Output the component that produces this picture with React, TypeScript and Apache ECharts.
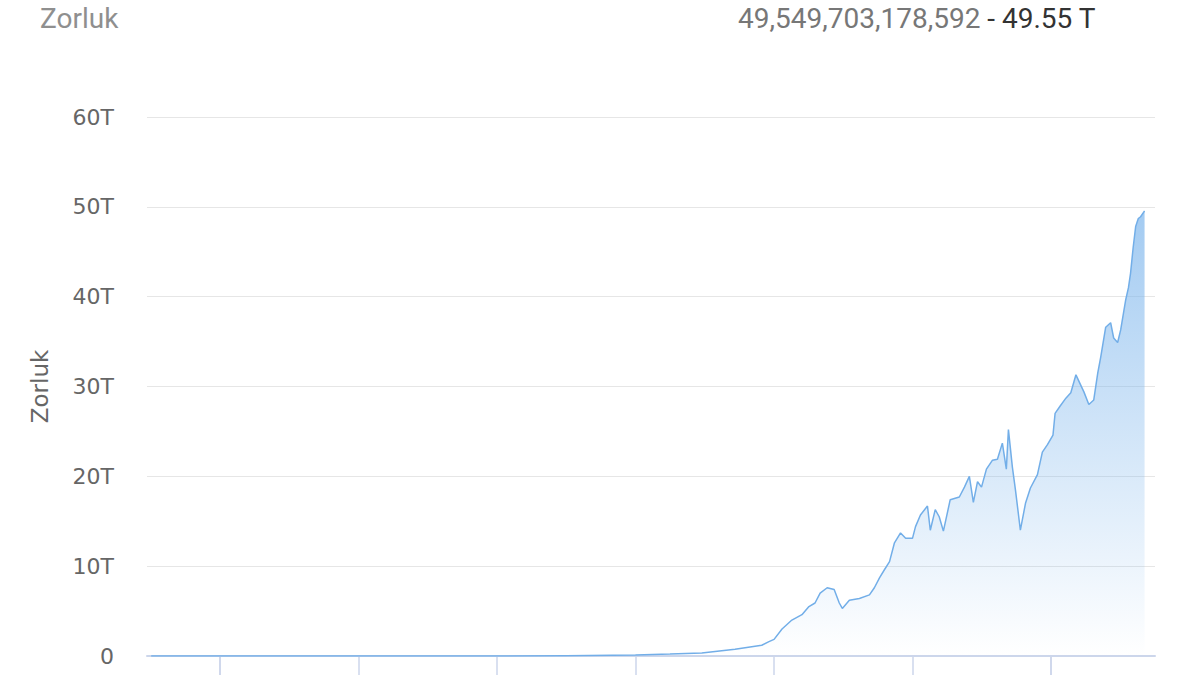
import React, { useEffect, useRef } from "react";
import * as echarts from "echarts";

// Bitcoin difficulty history (values in T = 10^12)
const dates: string[] = [
  "2009-01-03", "2011-01-01", "2012-01-01", "2013-01-01", "2014-01-01", "2015-01-01",
  "2016-01-01", "2016-07-01", "2016-12-16", "2017-06-09", "2017-10-28", "2017-12-05",
  "2018-01-01", "2018-02-12", "2018-04-05", "2018-05-28", "2018-07-04", "2018-08-05",
  "2018-09-01", "2018-10-08", "2018-11-14", "2018-12-11", "2018-12-27", "2019-02-02",
  "2019-03-27", "2019-05-19", "2019-06-14", "2019-07-11", "2019-08-06", "2019-09-02",
  "2019-09-28", "2019-10-30", "2019-11-26", "2020-01-01", "2020-01-17", "2020-02-12",
  "2020-03-20", "2020-04-04", "2020-04-30", "2020-05-21", "2020-06-12", "2020-07-18",
  "2020-09-04", "2020-10-01", "2020-10-27", "2020-11-17", "2020-12-09", "2020-12-30",
  "2021-01-25", "2021-02-26", "2021-03-24", "2021-04-19", "2021-05-10", "2021-05-21",
  "2021-06-11", "2021-06-27", "2021-07-23", "2021-08-19", "2021-09-14", "2021-10-21",
  "2021-11-16", "2021-12-12", "2022-01-11", "2022-01-22", "2022-02-17", "2022-03-20",
  "2022-04-15", "2022-05-12", "2022-06-23", "2022-07-19", "2022-08-14", "2022-09-04",
  "2022-09-20", "2022-10-16", "2022-11-11", "2022-11-27", "2022-12-18", "2023-01-03",
  "2023-01-29", "2023-02-13", "2023-02-24", "2023-03-10", "2023-03-23", "2023-04-06",
  "2023-04-18", "2023-05-09",
];

const difficultyT: number[] = [
  0, 0.0000016, 0.0000012, 0.0000034, 0.0014, 0.04,
  0.1, 0.21, 0.33, 0.75, 1.2, 1.6,
  1.85, 3.0, 4.0, 4.6, 5.5, 5.9,
  7.0, 7.6, 7.4, 5.9, 5.3, 6.2,
  6.4, 6.8, 7.6, 8.7, 9.6, 10.5,
  12.6, 13.7, 13.1, 13.1, 14.4, 15.7,
  16.7, 14.0, 16.3, 15.5, 13.9, 17.4,
  17.7, 18.8, 20.0, 17.1, 19.4, 18.8,
  20.8, 21.8, 21.9, 23.7, 20.8, 25.2,
  21.0, 18.5, 14.0, 17.0, 18.7, 20.2,
  22.7, 23.5, 24.6, 27.0, 27.8, 28.7,
  29.3, 31.3, 29.4, 28.0, 28.5, 31.5,
  33.3, 36.6, 37.1, 35.4, 34.9, 36.3,
  39.6, 41.0, 42.6, 45.5, 47.8, 48.7,
  48.9, 49.55,
];

const xTickDates: string[] = [
  "2010-01-01", "2012-01-01", "2014-01-01", "2016-01-01",
  "2018-01-01", "2020-01-01", "2022-01-01",
];

const latestDifficulty = 49549703178592;
const chartTitle = "Zorluk";
const yAxisName = "Zorluk";

export default function App() {
  const ref = useRef<HTMLDivElement>(null);

  useEffect(() => {
    if (!ref.current) return;
    const chart = echarts.init(ref.current, null, { renderer: "svg" });
    const seriesData = dates.map((d, i) => [d, difficultyT[i]]);
    const fullNum = latestDifficulty.toLocaleString("en-US");
    const shortNum = (latestDifficulty / 1e12).toFixed(2) + " T";

    chart.setOption({
      animation: false,
      backgroundColor: "#ffffff",
      title: [
        {
          text: chartTitle,
          left: 40,
          top: 4,
          padding: 0,
          textStyle: {
            fontFamily: "Roboto",
            fontSize: 28,
            fontWeight: "normal",
            color: "#8f8f8f",
          },
        },
        {
          text: `{a|${fullNum}} {b|- ${shortNum}}`,
          right: 104,
          top: 4,
          padding: 0,
          textStyle: {
            fontFamily: "Roboto",
            fontSize: 28,
            fontWeight: "normal",
            rich: {
              a: { fontFamily: "Roboto", fontSize: 28, color: "#777777" },
              b: { fontFamily: "Roboto", fontSize: 28, color: "#333333" },
            },
          },
        },
      ],
      grid: { left: 147, right: 45, top: 117, bottom: 19 },
      xAxis: {
        type: "time",
        min: "2008-12-12",
        max: "2023-07-03",
        axisLine: { lineStyle: { color: "#ccd6eb", width: 2 } },
        axisTick: {
          show: true,
          length: 22,
          lineStyle: { color: "#ccd6eb", width: 1.5 },
          customValues: xTickDates.map((d) => +new Date(d + "T00:00:00")),
        },
        axisLabel: { show: false },
        splitLine: { show: false },
      },
      yAxis: {
        type: "value",
        min: 0,
        max: 60,
        interval: 10,
        name: yAxisName,
        nameLocation: "middle",
        nameGap: 96,
        nameTextStyle: {
          fontFamily: "DejaVu Sans",
          fontSize: 23,
          color: "#666666",
        },
        axisLine: { show: false },
        axisTick: { show: false },
        axisLabel: {
          margin: 33,
          fontFamily: "DejaVu Sans",
          fontSize: 22,
          color: "#666666",
          formatter: (v: number) => (v === 0 ? "0" : v + "T"),
        },
        splitLine: { lineStyle: { color: "#e6e6e6", width: 1 } },
      },
      series: [
        {
          type: "line",
          data: seriesData,
          showSymbol: false,
          smooth: false,
          lineStyle: { color: "#72aee8", width: 1.5 },
          itemStyle: { color: "#7cb5ec" },
          areaStyle: {
            color: new echarts.graphic.LinearGradient(0, 0, 0, 1, [
              { offset: 0, color: "rgba(124,181,236,1)" },
              { offset: 1, color: "rgba(124,181,236,0)" },
            ]),
          },
        },
      ],
    });

    return () => chart.dispose();
  }, []);

  return (
    <div
      ref={ref}
      style={{ position: "absolute", left: 0, top: 0, width: 1200, height: 675 }}
    />
  );
}
